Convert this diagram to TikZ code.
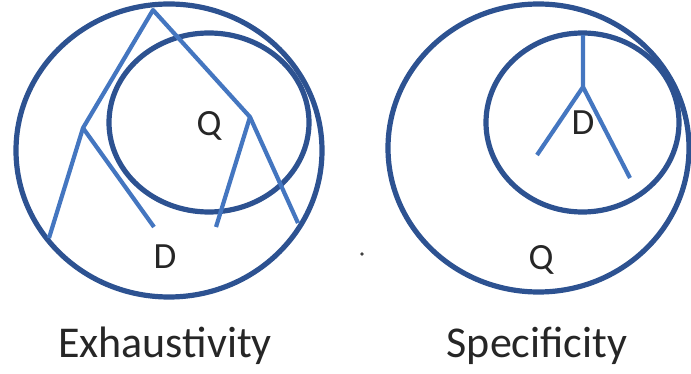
\documentclass[tikz,border=0pt]{standalone}
\usepackage{fontspec}
\setmainfont{Carlito}
\definecolor{ringblue}{RGB}{45,82,145}
\definecolor{treeblue}{RGB}{68,118,192}
\begin{document}
\begin{tikzpicture}[x=1pt,y=-1pt,
  ring/.style={draw=ringblue,line width=5.2pt},
  branch/.style={draw=treeblue,line width=4.2pt,line join=round},
  lbl/.style={inner sep=0pt,font=\fontsize{37}{40}\selectfont,text=black!85},
  captiontext/.style={inner sep=0pt,font=\fontsize{44}{48}\selectfont,text=black!85,anchor=base}]
\useasboundingbox (0,0) rectangle (691,374);
% left picture
\draw[ring] (169,150.5) ellipse [x radius=153, y radius=146.5];
\draw[ring] (209,122.5) ellipse [x radius=100, y radius=89.5];
\coordinate (A) at (153,10);
\coordinate (B) at (83,128);
\coordinate (C) at (49,238);
\coordinate (Dp) at (154,227);
\coordinate (E) at (250,117);
\coordinate (F) at (216,227);
\coordinate (G) at (298,223);
\draw[branch] (C) -- (B) -- (A) -- (E) -- (G);
\draw[branch] (B) -- (Dp);
\draw[branch] (E) -- (F);
\node[lbl] (q1) at (209,126) {Q};
\node[lbl] (d1) at (165,257) {D};
% right picture
\draw[ring] (538.5,148) ellipse [x radius=150.5, y radius=144];
\draw[ring] (582.5,122.5) ellipse [x radius=96.5, y radius=89.5];
\coordinate (T) at (583,35);
\coordinate (J) at (583,87);
\coordinate (L) at (537,155);
\coordinate (R) at (630,178);
\draw[branch] (T) -- (J) -- (L);
\draw[branch] (J) -- (R);
\node[lbl] (d2) at (583,123) {D};
\node[lbl] (q2) at (541,260) {Q};
% dot
\fill[black!75] (362,254) circle (1.8pt);
% captions
\node[captiontext] (c1) at (165,357) {Exhaustivity};
\node[captiontext] (c2) at (537,357) {Specificity};
\end{tikzpicture}
\end{document}
